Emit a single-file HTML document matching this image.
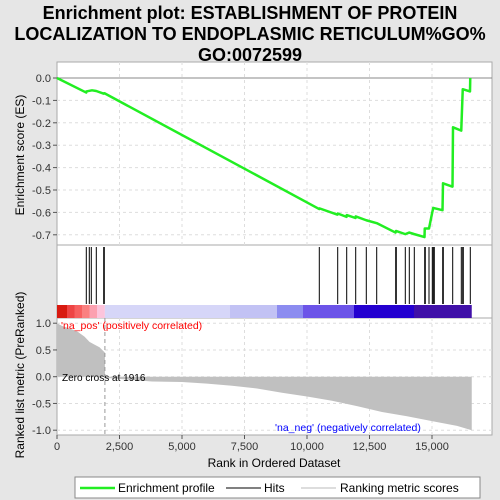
<!DOCTYPE html>
<html><head><meta charset="utf-8"><style>
body{margin:0;background:#e6e6e6;font-family:"Liberation Sans",sans-serif}
svg{display:block}
</style></head><body>
<svg width="500" height="500" xmlns="http://www.w3.org/2000/svg">
<rect width="500" height="500" fill="#e6e6e6"/>
<text x="250" y="19" text-anchor="middle" font-size="18" font-weight="bold" fill="#000">Enrichment plot: ESTABLISHMENT OF PROTEIN</text>
<text x="250" y="40" text-anchor="middle" font-size="18" font-weight="bold" fill="#000">LOCALIZATION TO ENDOPLASMIC RETICULUM%GO%</text>
<text x="250" y="61" text-anchor="middle" font-size="18" font-weight="bold" fill="#000">GO:0072599</text>
<g id="main"></g>
</svg>
<script>
const esRanks=[0,1170,1172,1400,1570,1870,1900,10490,10500,11220,11230,11580,11590,11940,11950,12370,12790,13540,13560,13930,14090,14290,14700,14710,14880,15010,15050,15420,15440,15820,15840,16170,16230,16520,16530];
const esValues=[0,-0.065,-0.06,-0.055,-0.058,-0.07,-0.068,-0.585,-0.582,-0.61,-0.605,-0.62,-0.612,-0.625,-0.618,-0.635,-0.648,-0.69,-0.683,-0.697,-0.69,-0.697,-0.71,-0.672,-0.672,-0.60,-0.58,-0.59,-0.47,-0.485,-0.22,-0.235,-0.05,-0.06,0.0];
const hitRanks=[1172,1292,1372,1572,1868,1892,10492,11228,11588,11948,12372,12788,13548,13572,13932,14092,14292,14708,14732,14880,15012,15052,15092,15428,15452,15828,16172,16228,16252,16532];
const metricRanks=[0,200,500,800,1100,1300,1500,1700,1916,1917,3800,5000,6000,7000,8000,9000,10000,11000,12000,13000,14000,15000,16000,16590];
const metricValues=[1.0,0.95,0.9,0.85,0.75,0.65,0.6,0.55,0.45,-0.02,-0.09,-0.1,-0.13,-0.17,-0.22,-0.3,-0.37,-0.45,-0.55,-0.66,-0.74,-0.83,-0.92,-1.0];
const xTicks=[0,2500,5000,7500,10000,12500,15000];
const xTickLabels=["0","2,500","5,000","7,500","10,000","12,500","15,000"];
const esTicks=[0,-0.1,-0.2,-0.3,-0.4,-0.5,-0.6,-0.7];
const esTickLabels=["0.0","-0.1","-0.2","-0.3","-0.4","-0.5","-0.6","-0.7"];
const mTicks=[1,0.5,0,-0.5,-1];
const mTickLabels=["1.0","0.5","0.0","-0.5","-1.0"];
const barRanks=[0,400,700,1000,1300,1600,1916,6920,8800,9840,11880,14280,16590];
const barColors=["#d81a10","#ee4444","#f76060","#fa8080","#fca0b0","#fcc4dc","#d6d6f8","#c2c2f4","#8c8cf0","#6c54e8","#2400d0","#4010a8"];

const NS="http://www.w3.org/2000/svg";
const g=document.getElementById('main');
const L=57,R=492;
const X=r=>L+r*0.025;
const YE=v=>78-v*224;
const YM=v=>376.7-v*53.5;
function el(t,a,p){const e=document.createElementNS(NS,t);for(const k in a)e.setAttribute(k,a[k]);(p||g).appendChild(e);return e;}

let e=el('rect',{x:L,y:62,width:R-L,height:183,fill:'#fff',stroke:'#aaa'});

e=el('rect',{x:L,y:245,width:R-L,height:73,fill:'#fff',stroke:'#aaa'});

e=el('rect',{x:L,y:318,width:R-L,height:117,fill:'#fff',stroke:'#aaa'});


xTicks.forEach((t,i)=>{if(i==0)return;
 el('line',{x1:X(t),x2:X(t),y1:62,y2:245,stroke:'#ddd','stroke-dasharray':'3,3'});
 el('line',{x1:X(t),x2:X(t),y1:318,y2:435,stroke:'#ddd','stroke-dasharray':'3,3'});});
esTicks.forEach((t,i)=>{
 el('line',{x1:L,x2:R,y1:YE(t),y2:YE(t),stroke:i==0?'#888':'#ddd','stroke-dasharray':i==0?'':'3,3'});
 el('line',{x1:L-4,x2:L,y1:YE(t),y2:YE(t),stroke:'#555'});
 const tx=el('text',{x:L-6,y:YE(t)+4,'text-anchor':'end','font-size':11,fill:'#333'});tx.textContent=esTickLabels[i];
 });
mTicks.forEach((t,i)=>{
 el('line',{x1:L,x2:R,y1:YM(t),y2:YM(t),stroke:'#ddd','stroke-dasharray':'3,3'});
 el('line',{x1:L-4,x2:L,y1:YM(t),y2:YM(t),stroke:'#555'});
 const tx=el('text',{x:L-6,y:YM(t)+4,'text-anchor':'end','font-size':11,fill:'#333'});tx.textContent=mTickLabels[i];
 });
xTicks.forEach((t,i)=>{
 el('line',{x1:X(t),x2:X(t),y1:435,y2:439,stroke:'#555'});
 const tx=el('text',{x:X(t),y:450,'text-anchor':'middle','font-size':11,fill:'#333'});tx.textContent=xTickLabels[i];
 });

let pts=esRanks.map((r,i)=>X(r)+','+YE(esValues[i])).join(' ');
e=el('polyline',{points:pts,fill:'none',stroke:'#22ee22','stroke-width':2.5,'stroke-linejoin':'round'});


hitRanks.forEach(r=>{const h=el('line',{x1:X(r),x2:X(r),y1:247,y2:304,stroke:'#000','stroke-width':1});
 });

barColors.forEach((c,i)=>{const b=el('rect',{x:X(barRanks[i]),y:305,width:X(barRanks[i+1])-X(barRanks[i]),height:13,fill:c});
 });

let mp=[X(0)+','+YM(0)];
metricRanks.forEach((r,i)=>{mp.push(X(r)+','+YM(metricValues[i]));});
mp.push(X(metricRanks[metricRanks.length-1])+','+YM(0));
e=el('polygon',{points:mp.join(' '),fill:'#c0c0c0'});

el('line',{x1:X(1916),x2:X(1916),y1:318,y2:435,stroke:'#999','stroke-dasharray':'4,3'});

function txt(s,a,name){const t=el('text',a);t.textContent=s;return t;}
txt("'na_pos' (positively correlated)",{x:61,y:329,'font-size':10.5,fill:'#f00'},'na-pos-label');
txt("'na_neg' (negatively correlated)",{x:275,y:431,'font-size':10.5,fill:'#00f'},'na-neg-label');
txt("Zero cross at 1916",{x:62,y:381,'font-size':10,fill:'#000'},'zero-cross-label');
txt("Rank in Ordered Dataset",{x:274,y:467,'text-anchor':'middle','font-size':12,fill:'#000'},'x-axis-title');
txt("Enrichment score (ES)",{x:0,y:0,'text-anchor':'middle','font-size':12,fill:'#000',transform:'translate(24,155) rotate(-90)'},'es-axis-title');
txt("Ranked list metric (PreRanked)",{x:0,y:0,'text-anchor':'middle','font-size':12,fill:'#000',transform:'translate(24,375) rotate(-90)'},'metric-axis-title');

e=el('rect',{x:75,y:477,width:405,height:21,fill:'#fff',stroke:'#888'});

el('line',{x1:80,x2:115,y1:488,y2:488,stroke:'#22ee22','stroke-width':2.5});
txt("Enrichment profile",{x:118,y:492,'font-size':12,fill:'#000'},'legend-entry-enrichment');
el('line',{x1:226,x2:261,y1:488,y2:488,stroke:'#000','stroke-width':1});
txt("Hits",{x:264,y:492,'font-size':12,fill:'#000'},'legend-entry-hits');
el('line',{x1:301,x2:336,y1:488,y2:488,stroke:'#bbb','stroke-width':1});
txt("Ranking metric scores",{x:340,y:492,'font-size':12,fill:'#000'},'legend-entry-metric');
</script>
</body></html>
